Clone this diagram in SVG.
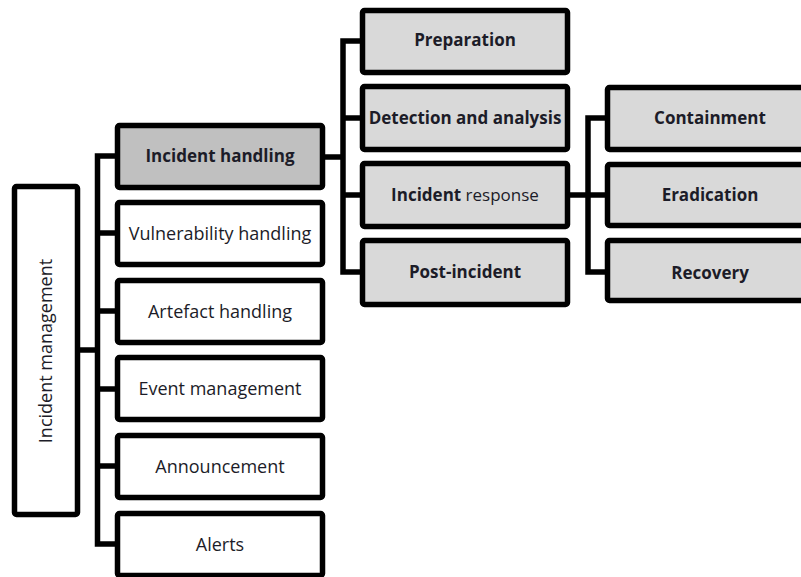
<svg xmlns="http://www.w3.org/2000/svg" width="801" height="577" viewBox="0 0 801 577">
<style>
.box{stroke:#000;stroke-width:5.5;stroke-linejoin:round}
.w{fill:#fff}
.g{fill:#d9d9d9}
.dg{fill:#c0c0c0}
.t{font-family:"Open Sans","Liberation Sans",sans-serif;font-size:18px;fill:#1c1c28;text-anchor:middle}
.b{font-weight:bold;font-size:17px}
.r{font-size:17px}
.c{stroke:#000;stroke-width:5.5;fill:none;stroke-linejoin:miter;stroke-linecap:square}
</style>
<rect width="801" height="577" fill="#fff"/>
<g id="connectors">
<path class="c" d="M80 350H97.5M97.5 156V544M97.5 156H115M97.5 233H115M97.5 311H115M97.5 389H115M97.5 466H115M97.5 544H115"/>
<path class="c" d="M325 157H343M343 41V272M343 41H360M343 118H360M343 195H360M343 272H360"/>
<path class="c" d="M570 195H588M588 118V272M588 118H605M588 195H605M588 272H605"/>
</g>
<g id="incident-management">
<rect class="box w" x="14.5" y="186.5" width="63" height="328" rx="2"/>
<text class="t" transform="translate(52 351) rotate(-90)">Incident management</text>
</g>
<g id="incident-handling">
<rect class="box dg" x="117.5" y="125.5" width="205" height="62" rx="2"/>
<text class="t b" x="220" y="162">Incident handling</text>
</g>
<g id="vulnerability-handling">
<rect class="box w" x="117.5" y="202.5" width="205" height="62" rx="2"/>
<text class="t" x="220" y="240">Vulnerability handling</text>
</g>
<g id="artefact-handling">
<rect class="box w" x="117.5" y="280.5" width="205" height="62" rx="2"/>
<text class="t" x="220" y="318">Artefact handling</text>
</g>
<g id="event-management">
<rect class="box w" x="117.5" y="357.5" width="205" height="62" rx="2"/>
<text class="t" x="220" y="395">Event management</text>
</g>
<g id="announcement">
<rect class="box w" x="117.5" y="435.5" width="205" height="62" rx="2"/>
<text class="t" x="220" y="473">Announcement</text>
</g>
<g id="alerts">
<rect class="box w" x="117.5" y="513.5" width="205" height="62" rx="2"/>
<text class="t" x="220" y="551">Alerts</text>
</g>
<g id="preparation">
<rect class="box g" x="362.5" y="10.5" width="205" height="62" rx="2"/>
<text class="t b" x="465" y="46">Preparation</text>
</g>
<g id="detection-and-analysis">
<rect class="box g" x="362.5" y="86.5" width="205" height="63" rx="2"/>
<text class="t b" x="465" y="124">Detection and analysis</text>
</g>
<g id="incident-response">
<rect class="box g" x="362.5" y="163.5" width="205" height="63" rx="2"/>
<text class="t r" x="465" y="201"><tspan class="b">Incident</tspan> response</text>
</g>
<g id="post-incident">
<rect class="box g" x="362.5" y="240.5" width="205" height="64" rx="2"/>
<text class="t b" x="465" y="278">Post-incident</text>
</g>
<g id="containment">
<rect class="box g" x="607.5" y="87.5" width="205" height="62" rx="2"/>
<text class="t b" x="710" y="124">Containment</text>
</g>
<g id="eradication">
<rect class="box g" x="607.5" y="164.5" width="205" height="61" rx="2"/>
<text class="t b" x="710" y="201">Eradication</text>
</g>
<g id="recovery">
<rect class="box g" x="607.5" y="240.5" width="205" height="60" rx="2"/>
<text class="t b" x="710" y="279">Recovery</text>
</g>
</svg>
